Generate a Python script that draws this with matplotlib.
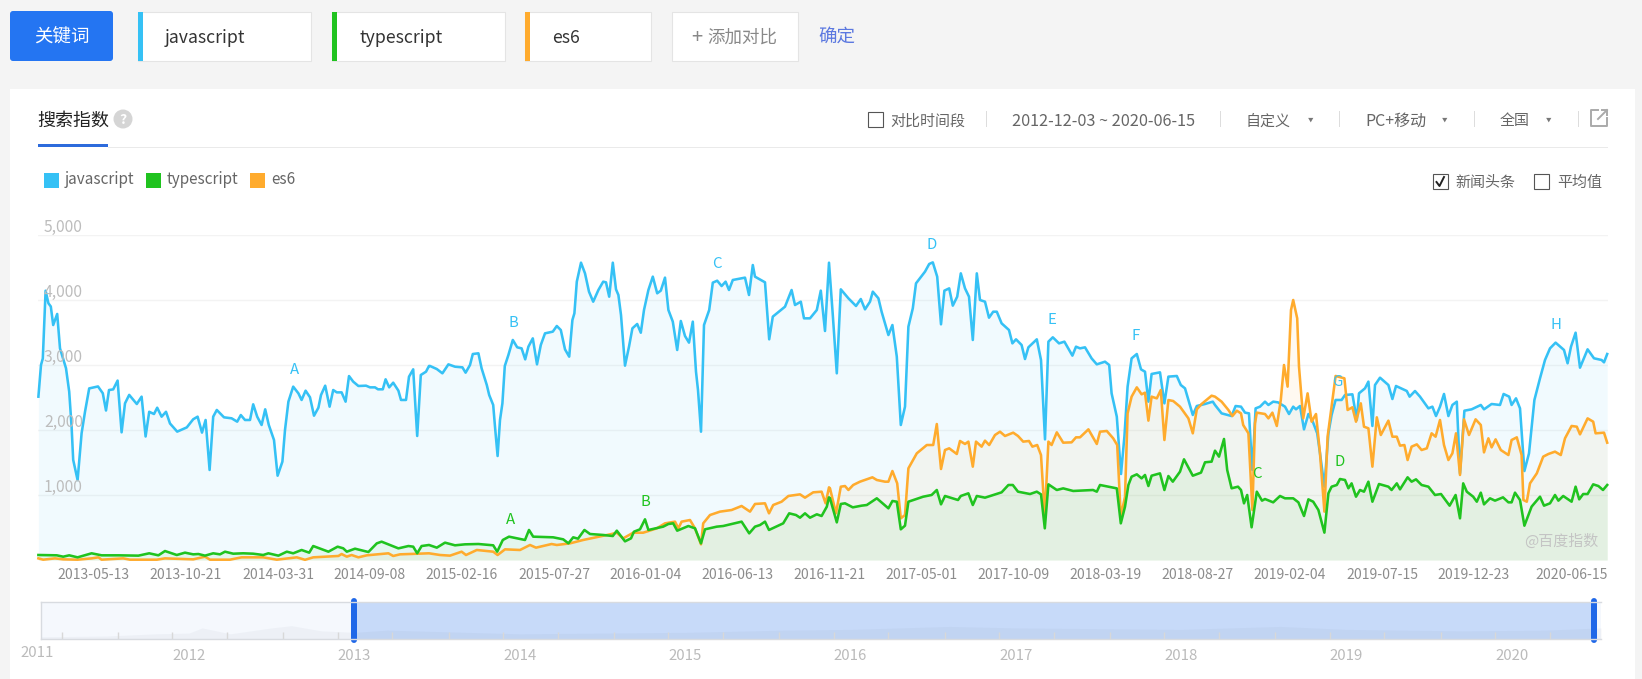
import matplotlib
matplotlib.use("Agg")
import matplotlib.pyplot as plt
from matplotlib.patches import Rectangle, FancyBboxPatch, Circle

plt.rcParams['font.family'] = ['Noto Sans CJK SC', 'DejaVu Sans']

W, H = 1642, 679

# x = weeks since 2012-12-03, y = index value
js_weeks = [0.1,0.75,1.2,1.9,2.6,3.2,3.8,4.8,5.5,7,7.8,8.4,8.8,9.9,10.9,11.75,12.8,15,16.2,17,17.75,18.8,19.9,20.9,21.75,22.8,24.7,25.9,26.9,27.8,29,29.8,30.9,32,33,34.8,37.2,38.8,39.9,41,41.9,42.9,43.8,44.7,46.5,48.4,49.8,50.7,51.75,53,53.8,54.8,55.9,56.8,57.7,59,59.9,61.1,61.75,62.6,63.8,65.1,65.9,66.9,68,69,70.1,70.75,71.8,72.9,73.8,74.7,75.9,76.9,77.75,78.8,80.1,82,83,84.25,85,86.2,86.9,87.8,88.8,90.1,90.75,92,92.75,93.8,94.8,95.7,97,97.75,
            98,99.7,101.1,102.6,104.25,106.1,106.9,108,108.7,110.1,110.9,112.2,112.8,113.8,114.25,114.9,115.5,116.1,116.7,117.6,118.7,119.8,120.9,121.8,122.6,123.7,124.75,125.7,126.75,128.7,129.7,130.7,131.75,132.8,133.6,134.1,134.7,135.75,136.75,137.75,138.8,140.1,141.3,142,142.8,143.7,144.5,145.1,145.75,146.75,147.75,148.6,149.8,150.7,151.5,152.6,153.7,154.8,155.7,156.75,157.6,158.7,159.8,160.7,161.75,162.75,163.7,164.5,165,165.75,166.5,167.8,168.7,169.8,170.9,171.9,172.75,173.7,176.75,177.75,178.7,179.25,181.75,182.8,183.7,186.75,188.4,189.25,190.7,191.5,193,194.7,195.7,196.75,197.75,
            198.7,199.7,200.7,202.6,204.5,205.7,206.75,208,208.7,210.1,210.9,212.6,213.6,214.7,215.7,216.75,217.6,218.7,219.5,221.75,222.8,223.7,224.8,225.75,226.6,227.8,228.7,229.8,230.7,231.75,232.75,233.7,234.7,235.5,236.75,237.75,238.8,239.7,240.9,242.75,243.6,244.5,245.9,246.75,247.6,249.7,250.75,251.75,252.6,253.7,255.25,256.6,258.6,259.5,260.5,261.75,263.4,264.7,266.75,267.8,268.4,269.7,270.75,271.6,272.4,273.4,274.7,275.75,276.75,277.6,278.4,280.5,281.6,282.6,284.7,285.7,286.75,288.7,289.7,291.75,293.7,
            294.25,295.9,298.4,299.4,300.75,301.75,302.75,303.4,303.6,304.4,305.5,306.75,307.6,308.8,310,311.75,312.75,313.8,314.5,315.5,316.5,317.6,318.7,319.8,320.5,321.6,322.6,323.4,324.4,325.9,326.75,328.6,329.7,330.25,331.75,332.6,333.6,334.25,335.5,337.6,338.6,339.5,342.2,342.9,344.25,345.5,347.6,348.6,349.5,350.5,351.5,352.6,353.6,354.7,355.5,356.6,358.4,360.7,361.5,363.4,365.5,366.4,367.8,368.4,369.5,370.5,371.6,372.75,374.1,375.5,376.75,378,379.4,381.5,382.4,383.25,384.4,385.5,387.4,389,390.9,391.5,392.3]
js_values = [2513,3000,3100,4143,3950,3900,3615,3785,3256,2950,2590,2050,1540,1230,1950,2280,2640,2670,2565,2300,2615,2625,2760,1964,2410,2540,2400,2513,1900,2280,2246,2343,2205,2280,2100,1975,2040,2165,2205,1960,2154,1385,2205,2308,2195,2180,2128,2230,2154,2154,2395,2205,2077,2318,2077,1846,1297,1513,2000,2436,2667,2564,2462,2605,2503,2220,2343,2538,2682,2359,2615,2579,2579,2436,2830,2744,2677,2682,2656,2656,2626,2626,2780,2656,2728,2605,2462,2462,2820,2933,1908,2846,2897,2985,
             2985,2938,2872,3010,2974,2964,2882,3000,3169,3180,2949,2692,2538,2385,2051,1600,2154,2410,2985,3154,3385,3272,3256,3087,3282,3410,3010,3308,3487,3513,3600,3538,3241,3128,3692,3795,4282,4574,4410,4128,3974,4154,4282,4272,4051,4574,4164,4077,3769,2990,3282,3564,3631,3497,3846,4154,4359,4103,4144,4344,3846,3667,3231,3677,3446,3344,3667,2897,2615,1974,3615,3846,4267,4297,4215,4282,4154,4308,4344,4077,4538,4359,4272,3395,3744,3897,4154,3923,3974,3718,3718,3846,4144,3523,4574,
             3769,2872,4164,4026,3908,4015,3856,3974,4128,4026,3820,3461,3615,3128,2077,2359,3590,3872,4256,4436,4554,4579,4359,3626,4144,4179,3913,4051,4410,4179,4051,3385,4410,4000,3974,3728,3820,3820,3641,3538,3333,3395,3308,3092,3272,3395,3077,1856,3359,3426,3333,3359,3144,3282,3256,3272,3102,3010,3051,3000,2564,2205,1323,1897,2667,3102,3169,2933,2897,2436,2862,2887,2410,2821,2831,2692,2641,2231,2369,2400,2436,
             2385,2256,2215,2369,2359,2267,2256,1538,1385,2333,2359,2436,2385,2436,2425,2359,2246,2359,2318,2369,2010,2246,2128,1949,1641,1128,1949,2231,2462,2462,2538,2549,2154,2564,2641,2744,2062,2692,2805,2692,2477,2677,2600,2513,2600,2513,2333,2359,2215,2359,2554,2215,2385,2436,1333,2297,2318,2385,2318,2400,2385,2554,2513,2385,2487,2333,1369,1641,2462,2795,3077,3256,3344,3231,3026,3282,3497,2959,3241,3103,3077,3041,3169]

ts_weeks = [0.1,4.7,6.3,7.8,9.9,13.4,15.9,20.1,25.1,27.8,30.1,31.75,34.7,36.75,38.8,40.1,41.75,43.8,45.5,46.75,48.8,51.3,53.8,56.3,57.6,60.1,62.2,63.8,65.9,67.8,68.8,72.6,74.9,76.3,77.2,79.25,82.6,84.7,85.9,90.1,92.6,93.8,94.8,95.9,97.75,
            99.7,101.75,104.25,106.75,110.1,113.8,114.8,116.2,117.75,121.75,122.75,123.8,128.8,131.3,132.6,133.8,135,136.6,138,141.3,143.7,144.7,146.75,148.25,149,150.5,151.75,152.6,156.3,157.6,158.8,159.8,162.6,164.25,165.75,166.75,169.7,171.3,175.9,177.8,179.25,180.5,181.75,182.75,186.3,187.8,189.5,190.5,191.75,193,194.7,195.9,197.2,197.75,
            198,199.7,200.7,201.75,203.7,205.9,207.2,209.7,212.6,213.6,214.7,215.7,216.75,217.6,221.3,223.4,224.7,225.75,226.75,230,230.7,232.6,233.7,234.7,236.75,240.9,242.6,243.7,245,248,249.7,250.75,251.7,252.6,254.7,256.3,258.8,263.75,264.7,265.5,269.7,270.7,271.75,272.6,273.4,274.7,275.9,276.75,277.6,278.4,280.5,281.6,282.6,283.7,285.5,286.5,288.7,290.75,291.75,293.4,
            294.25,295.25,296.5,297.3,298.4,300,300.75,301.5,302.3,303.4,304.7,306,306.75,308.8,310.5,311.75,313.8,315.1,316.5,317.6,318.8,320.1,321.6,322.6,323.4,324.7,325.5,326.75,327.6,328.4,329.5,330.5,331.5,332.6,333.6,335.25,337.6,338.4,339.7,340.5,342.4,343.4,344.5,345.9,347.6,349.25,350.75,352.9,354.4,355.5,356.3,357.2,358.8,359.7,360.7,361.5,363,364.25,366.25,367.6,368.4,369.25,370.5,371.6,373.4,375.5,376.5,378,379.25,380.1,381.3,383.4,384.4,385.3,386.3,387.4,388.8,390.1,391.25,392.3]
ts_values = [77,72,51,72,41,103,72,72,67,103,72,138,77,113,87,92,67,103,87,128,97,103,97,77,103,67,128,103,154,113,215,128,205,180,128,174,123,256,282,179,215,205,103,215,231,
             190,267,226,241,246,226,128,308,359,308,462,359,349,318,256,349,328,462,400,385,369,451,287,333,436,472,626,462,513,554,564,451,523,487,256,472,513,523,590,410,513,538,590,462,564,718,692,651,718,651,703,677,820,964,
             949,579,862,872,810,836,846,949,795,908,897,472,528,897,974,1000,1077,856,985,923,985,1026,846,985,959,1041,1154,1154,1051,1015,1051,1010,487,1164,1077,1102,1062,1077,1051,1154,1102,564,820,1154,1282,1318,1256,1308,1138,1297,1333,1077,1292,1205,1359,1549,1297,1344,1503,1513,
             1682,1590,1862,1385,1103,1128,1077,872,1000,503,1051,913,938,887,985,949,949,887,677,933,897,769,421,1026,1128,1154,1246,1231,1103,1179,974,1077,1051,1205,897,1169,1128,1077,1179,1087,1272,1205,1241,1154,1128,1000,1015,836,1000,641,1179,1051,974,897,1036,856,949,913,964,887,887,1036,923,528,821,974,836,872,1000,913,985,897,1128,933,1015,1015,1164,1138,1077,1154]

es_weeks = [0.1,1.3,4.25,6.3,9.9,13.4,15.1,15.9,21.3,23,29.7,31.75,38.8,41.75,43,48,50.9,56.3,59.7,64.7,66.75,68.8,75.1,75.9,77.2,78.4,80.1,82.2,87.6,88.8,90.5,97.75,
            100.5,103,105.9,107,109.7,113.8,114.9,116.75,120.5,123,124.5,128.4,129.7,133,136.3,143.4,144.7,146.3,148.8,151.3,154.7,156.75,159.25,160.1,160.9,163,164.25,165.75,166.3,168,170.5,173.4,175.9,178,179.25,181.75,182.75,183.8,185.9,187.6,190.5,191.75,193.8,195.9,196.9,197.75,
            198,199.5,200.7,201.75,202.6,203.8,205.5,208.6,209.7,211.75,212.6,213.6,214.8,215.7,216.75,217.6,219.7,222.2,223.8,224.7,225.75,226.75,227.8,229.7,230.5,231.75,232.6,233.7,234.5,235.9,236.75,237.8,239.25,240.5,241.75,243.8,245,246.3,247.75,248.6,249.8,250.75,251.7,252.6,253.4,254.7,256.3,258.4,259.5,260.5,262.6,264.7,265.5,267.2,268.8,269.8,270.7,271.75,272.4,273.4,274.7,275.9,276.75,277.6,278.4,279.7,280.7,281.6,282.6,283.8,285.5,287.6,288.7,289.7,290.9,293.4,
            294.25,295.9,297.6,298.6,299.7,300.75,301.3,302.6,303.6,304.25,304.7,306.75,307.6,308.6,309.7,310.7,311.5,312.4,313.25,313.8,314.8,315.25,316.3,317.4,318.4,319.5,320.5,321.6,322.4,323.4,324.4,326.6,327.4,328.6,329.5,330.7,331.5,332.6,333.6,334.7,335.7,337.6,338.6,339.7,340.5,341.6,342.4,343.4,344.7,345.9,347.2,348.4,349.4,350.5,351.5,352.6,353.6,354.5,355.5,356.5,357.75,359.4,360.7,361.5,362.6,363.4,364.4,365.7,367.6,368.4,369.7,370.9,371.35,372.2,373,374.7,376.3,377.6,379.25,380.7,381.75,383.4,384.7,385.5,387.4,388.8,389.4,391.5,392.3]
es_values = [25,5,25,10,5,25,41,5,25,5,5,25,10,51,5,5,41,41,5,41,3,41,62,92,51,77,41,72,103,62,87,103,
             77,67,128,77,154,128,77,164,154,231,190,246,231,256,308,400,420,333,420,420,487,564,590,487,590,615,487,241,564,692,744,769,831,744,862,872,718,846,897,985,1010,959,1041,1051,872,1118,
             1102,718,1128,1138,1077,1154,1205,1272,1231,1205,1205,1369,1179,641,692,1410,1641,1769,1769,2092,1400,1692,1718,1631,1831,1785,1821,1436,1821,1744,1836,1769,1923,1974,1908,1959,1908,1821,1831,1744,1769,1615,667,1821,1769,1964,1805,1810,1887,1887,2010,1785,1974,1985,1872,1769,667,974,2256,2513,2656,2549,2574,2144,2513,2487,2615,1846,2461,2446,2359,2179,1949,2318,2400,2528,
             2513,2436,2308,2215,2297,2256,2077,1949,769,2103,2267,2246,2179,2267,2062,2462,3000,2667,3846,4000,3718,2974,2179,2564,2128,2246,1641,744,1897,2359,2831,2795,2308,2349,2128,2410,2051,2026,1436,2195,1923,2144,1897,1897,1759,1769,1538,1744,1779,1692,1718,1949,1897,2154,1769,1538,1641,1949,1308,2164,1923,2164,2077,1656,1872,1733,1856,1692,1615,1846,1887,1615,923,897,1179,1333,1590,1631,1667,1615,1872,2062,2051,1933,2179,2128,1949,1959,1805]

tick_weeks = [23, 46, 69, 92, 115, 138, 161, 184, 207, 230, 253, 276, 299, 322, 345, 368, 392.5]
tick_labels = ['2013-05-13', '2013-10-21', '2014-03-31', '2014-09-08', '2015-02-16', '2015-07-27',
               '2016-01-04', '2016-06-13', '2016-11-21', '2017-05-01', '2017-10-09', '2018-03-19',
               '2018-08-27', '2019-02-04', '2019-07-15', '2019-12-23', '2020-06-15']
y_ticks = [1000, 2000, 3000, 4000, 5000]

js_notes = [('A', 64, 2923), ('B', 118.75, 3646), ('C', 169.75, 4554), ('D', 223.5, 4846),
            ('E', 253.5, 3692), ('F', 274.5, 3446), ('G', 324.75, 2746), ('H', 379.5, 3615)]
ts_notes = [('A', 118, 615), ('B', 151.75, 892), ('C', 304.75, 1323), ('D', 325.5, 1508)]

nav_years = [2011.1, 2011.5, 2011.8, 2012.0, 2012.08, 2012.25, 2012.5, 2012.62, 2012.8, 2013.0, 2013.2, 2014, 2015, 2015.6, 2016, 2016.6, 2017, 2018, 2018.6, 2019, 2019.7, 2020.2, 2020.54]
nav_values = [6, 8, 14, 16, 30, 14, 30, 36, 22, 18, 24, 14, 18, 24, 26, 34, 30, 26, 34, 26, 22, 24, 30]
nav_ticks = [2011.23, 2011.57, 2011.9, 2012.23, 2012.57, 2012.9, 2013.23, 2013.57, 2013.9, 2014.23, 2014.57, 2014.9, 2015.23, 2015.57, 2015.9,
             2016.23, 2016.57, 2016.9, 2017.23, 2017.57, 2017.9, 2018.23, 2018.57, 2018.9, 2019.23, 2019.57, 2019.9, 2020.23]
year_labels = [2012, 2013, 2014, 2015, 2016, 2017, 2018, 2019, 2020]

BLUE, GREEN, ORANGE = '#35c1f5', '#20c31f', '#ffab2d'


def px(size):
    return size * 0.72


fig = plt.figure(figsize=(W / 100, H / 100), dpi=100, facecolor='#f4f4f4')

# page furniture, in pixel coordinates
ui = fig.add_axes([0, 0, 1, 1], zorder=0)
ui.set_xlim(0, W)
ui.set_ylim(H, 0)
ui.axis('off')


def rect(x0, y0, x1, y1, color, **kw):
    ui.add_patch(Rectangle((x0, y0), x1 - x0, y1 - y0, facecolor=color, edgecolor=kw.pop('edge', 'none'), linewidth=kw.pop('lw', 0), **kw))


def label(x, y, s, size=15, color='#666666', ha='left', **kw):
    # the CJK font sits high in its box, so nudge down a little
    ui.text(x, y + 1.5, s, fontsize=px(size), color=color, ha=ha, va='center', **kw)


def checkbox(x, y, size=15):
    rect(x, y, x + size, y + size, 'white', edge='#555555', lw=0.8)


ui.add_patch(FancyBboxPatch((13, 14), 97, 44, boxstyle='round,pad=3', facecolor='#2475f2', edgecolor='none'))
label(61.5, 36.5, '关键词', size=18.5, color='white', ha='center')

for x0, x1, c, name in [(138, 311, BLUE, 'javascript'), (332, 505, GREEN, 'typescript'), (525, 651, ORANGE, 'es6')]:
    rect(x0, 11.5, x1, 60.5, 'white', edge='#e4e4e4', lw=0.8)
    rect(x0, 11.5, x0 + 4.5, 60.5, c)
    label(x0 + 27, 36.5, name, size=17.7, color='#333333')
rect(672, 11.5, 798, 60.5, 'white', edge='#e4e4e4', lw=0.8)
label(691, 36, '+', size=20, color='#888888')
label(707, 36, '添加对比', size=17.5, color='#888888')
label(818, 35, '确定', size=18.5, color='#5b78e0')

rect(10, 89, 1635, H, 'white')
label(37, 119, '搜索指数', size=18, color='#222222')
rect(38, 144, 108, 147, '#2d6bdc')
rect(108, 146.5, 1608, 147.5, '#eaeaea')
ui.add_patch(Circle((123, 119), 9.5, facecolor='#d5d5d5', edgecolor='none'))
label(123, 118, '?', size=14, color='white', ha='center', fontweight='bold')

checkbox(868, 112)
label(890, 120, '对比时间段', size=15)
for sx in [986, 1220, 1339, 1474, 1578]:
    rect(sx, 111, sx + 1, 127, '#dddddd')
label(1012, 120, '2012-12-03 ~ 2020-06-15', size=16.3)
label(1246, 120, '自定义', size=15)
label(1365, 120, 'PC+移动', size=16)
label(1500, 120, '全国', size=15)
for ax_ in [1311, 1445, 1549]:
    label(ax_, 119, '▼', size=5.5, color='#777777', ha='center')
# export icon
ui.plot([1598, 1591, 1591, 1607, 1607], [110, 110, 126, 126, 118], color='#aaaaaa', lw=1.4)
ui.plot([1598, 1607], [119, 110], color='#aaaaaa', lw=1.4)
ui.plot([1602, 1607, 1607], [110, 110, 115], color='#aaaaaa', lw=1.4)

for x0, c, name, tx in [(44, BLUE, 'javascript', 65), (146, GREEN, 'typescript', 167), (250, ORANGE, 'es6', 271)]:
    rect(x0, 173, x0 + 15, 188, c)
    label(tx, 178.5, name, size=15.3)
checkbox(1433, 174)
ui.plot([1436.5, 1439.5, 1444], [182, 186, 177], color='#222222', lw=1.4)
label(1455, 181, '新闻头条', size=15)
checkbox(1534, 174)
label(1557, 181, '平均值', size=15)

# main chart
ax = fig.add_axes([38 / W, (H - 560) / H, 1570 / W, 325 / H], zorder=1)
ax.patch.set_alpha(0)
ax.set_xlim(0, 392.5)
ax.set_ylim(0, 5000)
for s in ax.spines.values():
    s.set_visible(False)

ax.set_yticks(y_ticks)
ax.set_yticklabels([])
ax.grid(axis='y', color='#f3f3f3', linewidth=1)
ax.set_axisbelow(True)
ax.tick_params(length=0)
ax.set_xticks(tick_weeks)
ax.set_xticklabels(tick_labels, ha='right', fontsize=px(14), color='#8c8c8c')
ax.tick_params(axis='x', pad=5.5)

for wk, vals, c in [(js_weeks, js_values, BLUE), (es_weeks, es_values, ORANGE), (ts_weeks, ts_values, GREEN)]:
    ax.fill_between(wk, vals, 0, color=c, alpha=0.065, linewidth=0)
for wk, vals, c in [(js_weeks, js_values, BLUE), (es_weeks, es_values, ORANGE), (ts_weeks, ts_values, GREEN)]:
    ax.plot(wk, vals, color=c, linewidth=1.85, solid_joinstyle='round', clip_on=False)

for v in y_ticks:
    ax.annotate(f'{v:,}', xy=(0, v), xytext=(6, 7.5), textcoords='offset pixels', fontsize=px(15.7), color='#bdbdbd', ha='left', va='center', annotation_clip=False)
for s, wk, v in js_notes:
    ax.text(wk, v, s, color=BLUE, fontsize=px(15), ha='center', va='center')
for s, wk, v in ts_notes:
    ax.text(wk, v, s, color=GREEN, fontsize=px(15), ha='center', va='center')
ax.text(1560 / 1570, 19 / 325, '@百度指数', transform=ax.transAxes, fontsize=px(15), color='#c4c4c4', ha='right', va='center')

# range navigator, x in years
nav = fig.add_axes([41 / W, (H - 639) / H, 1560 / W, 37 / H], zorder=1)
nav.set_xlim(2011.105, 2020.54)
nav.set_ylim(0, 100)
nav.set_facecolor('#f5f8fd')
for s in nav.spines.values():
    s.set_color('#d8dbe0')
    s.set_linewidth(1)
nav.spines['right'].set_visible(False)
nav.axvspan(2013.0, 2020.5, color='#c7daf9', linewidth=0)
nav.fill_between(nav_years, nav_values, 0, color='#5a6a80', alpha=0.05, linewidth=0)
nav.axvline(2013.0, color='#2068e8', linewidth=px(6), clip_on=False, ymin=-0.02, ymax=1.02, solid_capstyle='round')
nav.axvline(2020.5, color='#2068e8', linewidth=px(6), clip_on=False, ymin=-0.02, ymax=1.02, solid_capstyle='round')
nav.set_xticks(nav_ticks)
nav.set_xticklabels([])
nav.tick_params(axis='x', direction='in', length=5, color='#d8d8d8', width=1)
nav.set_yticks([])

for y in year_labels:
    nav.text(y, -47, str(y), fontsize=px(15), color='#bbbbbb', ha='center', va='center', clip_on=False)
nav.text(2011.08, -38, '2011', fontsize=px(15), color='#bbbbbb', ha='center', va='center', clip_on=False)

fig.savefig('out.png', dpi=100, facecolor=fig.get_facecolor())
plt.close(fig)
